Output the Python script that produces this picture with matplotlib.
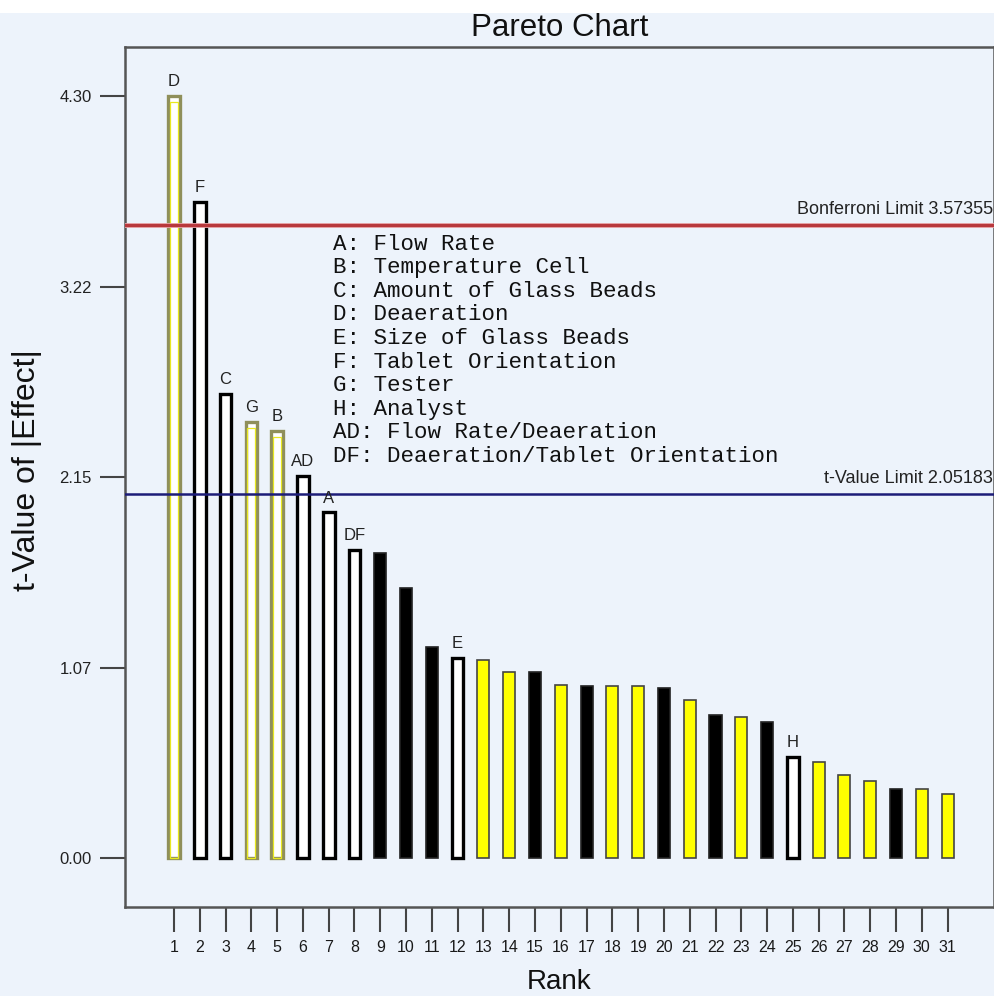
import matplotlib
matplotlib.use("Agg")
import matplotlib.pyplot as plt
import matplotlib.patheffects as pe
from matplotlib.patches import Rectangle

plt.rcParams['font.family'] = ['Liberation Sans', 'DejaVu Sans']

# ---------------- data ----------------
ranks = list(range(1, 32))
t_values = [4.30, 3.70, 2.62, 2.46, 2.41, 2.155, 1.95, 1.74, 1.72, 1.525,
            1.19, 1.127, 1.117, 1.051, 1.051, 0.976, 0.971, 0.971, 0.971, 0.960,
            0.892, 0.807, 0.797, 0.769, 0.568, 0.543, 0.468, 0.435, 0.388, 0.388,
            0.361]
term_labels = ['D', 'F', 'C', 'G', 'B', 'AD', 'A', 'DF', '', '',
               '', 'E', '', '', '', '', '', '', '', '',
               '', '', '', '', 'H', '', '', '', '', '', '']
effect_sign = ['+', '-', '-', '+', '+', '-', '-', '-', '-', '-',
               '-', '-', '+', '+', '-', '+', '-', '+', '+', '-',
               '+', '-', '+', '-', '-', '+', '+', '+', '-', '+', '+']
in_model = [True, True, True, True, True, True, True, True, False, False,
            False, True, False, False, False, False, False, False, False, False,
            False, False, False, False, True, False, False, False, False, False,
            False]
legend_lines = ['A: Flow Rate', 'B: Temperature Cell', 'C: Amount of Glass Beads',
                'D: Deaeration', 'E: Size of Glass Beads', 'F: Tablet Orientation',
                'G: Tester', 'H: Analyst', 'AD: Flow Rate/Deaeration',
                'DF: Deaeration/Tablet Orientation']
bonferroni = 3.57355
t_limit = 2.05183
ytick_labels = ['0.00', '1.07', '2.15', '3.22', '4.30']

# ---------------- figure ----------------
BG = '#EDF3FB'
fig = plt.figure(figsize=(9.95, 9.96), dpi=100, facecolor=BG)
fig.patches.append(Rectangle((0, 1 - 13 / 996), 1, 13 / 996, transform=fig.transFigure,
                             facecolor='white', edgecolor='none', zorder=0))
ax = fig.add_axes([125 / 995, 1 - 907 / 996, 869 / 995, 860 / 996])
ax.set_facecolor(BG)

for r, v, lab, s, m in zip(ranks, t_values, term_labels, effect_sign, in_model):
    if m:
        if s == '+':
            # olive outer outline with a thin yellow inner outline
            ax.bar(r, v, width=0.45, facecolor='white', edgecolor='#8f8f5a',
                   linewidth=2.4, zorder=2)
            ax.bar(r, v - 0.035, width=0.30, facecolor='none', edgecolor='#e8e820',
                   linewidth=0.9, zorder=2.1)
        else:
            ax.bar(r, v, width=0.45, facecolor='white', edgecolor='black',
                   linewidth=2.4, zorder=2)
    else:
        if s == '+':
            ax.bar(r, v, width=0.47, facecolor='#ffff00', edgecolor='#444444',
                   linewidth=1.2, zorder=2)
        else:
            ax.bar(r, v, width=0.47, facecolor='black', edgecolor='#222222',
                   linewidth=1.2, zorder=2)
    if lab:
        ax.annotate(lab, (r, v), xytext=(0, 5), textcoords='offset points',
                    ha='center', va='bottom', fontsize=12, color='#222222', zorder=4)

ax.axhline(bonferroni, color='#b8383c', linewidth=2.2, zorder=3,
           path_effects=[pe.Stroke(linewidth=3.5, foreground='#e7a0a4'), pe.Normal()])
ax.axhline(t_limit, color='#1c1c78', linewidth=1.8, zorder=3)
ax.text(0.999, bonferroni + 0.04, 'Bonferroni Limit %.5f' % bonferroni,
        transform=ax.get_yaxis_transform(), ha='right', va='bottom',
        fontsize=13, color='#222222')
ax.text(0.999, t_limit + 0.04, 't-Value Limit %.5f' % t_limit,
        transform=ax.get_yaxis_transform(), ha='right', va='bottom',
        fontsize=13, color='#222222')

# legend of factor names
for i, line in enumerate(legend_lines):
    ax.text((333 - 125) / 869, (907 - 244 - 23.6 * i) / 860, line,
            transform=ax.transAxes, ha='left', va='center',
            fontsize=16.2, family=['Liberation Mono', 'DejaVu Sans Mono'],
            color='#111111')

ax.set_xlim(-0.9, 32.8)
ax.set_ylim(-0.2765, 4.577)
ax.set_xticks(ranks)
ax.set_xticklabels([str(r) for r in ranks], fontsize=11.5, color='#1a1a1a')
ax.set_yticks([float(t) for t in ytick_labels])
ax.set_yticklabels(ytick_labels, fontsize=12, color='#222222')
ax.tick_params(axis='both', direction='out', length=18, width=1.5, color='#444444', pad=6)

for sp in ax.spines.values():
    sp.set_color('#555555')
    sp.set_linewidth(1.8)

fig.text(559.5 / 995, 1 - 36 / 996, 'Pareto Chart', ha='center', va='baseline',
         fontsize=22.5, color='#111111')
fig.text(27 / 995, 1 - 470 / 996, 't-Value of |Effect|', rotation=90,
         ha='center', va='center', fontsize=23, color='#111111')
fig.text(559.5 / 995, 0.001, 'Rank', ha='center', va='bottom',
         fontsize=20, color='#111111')

fig.savefig('out.png', dpi=100, facecolor=BG)
